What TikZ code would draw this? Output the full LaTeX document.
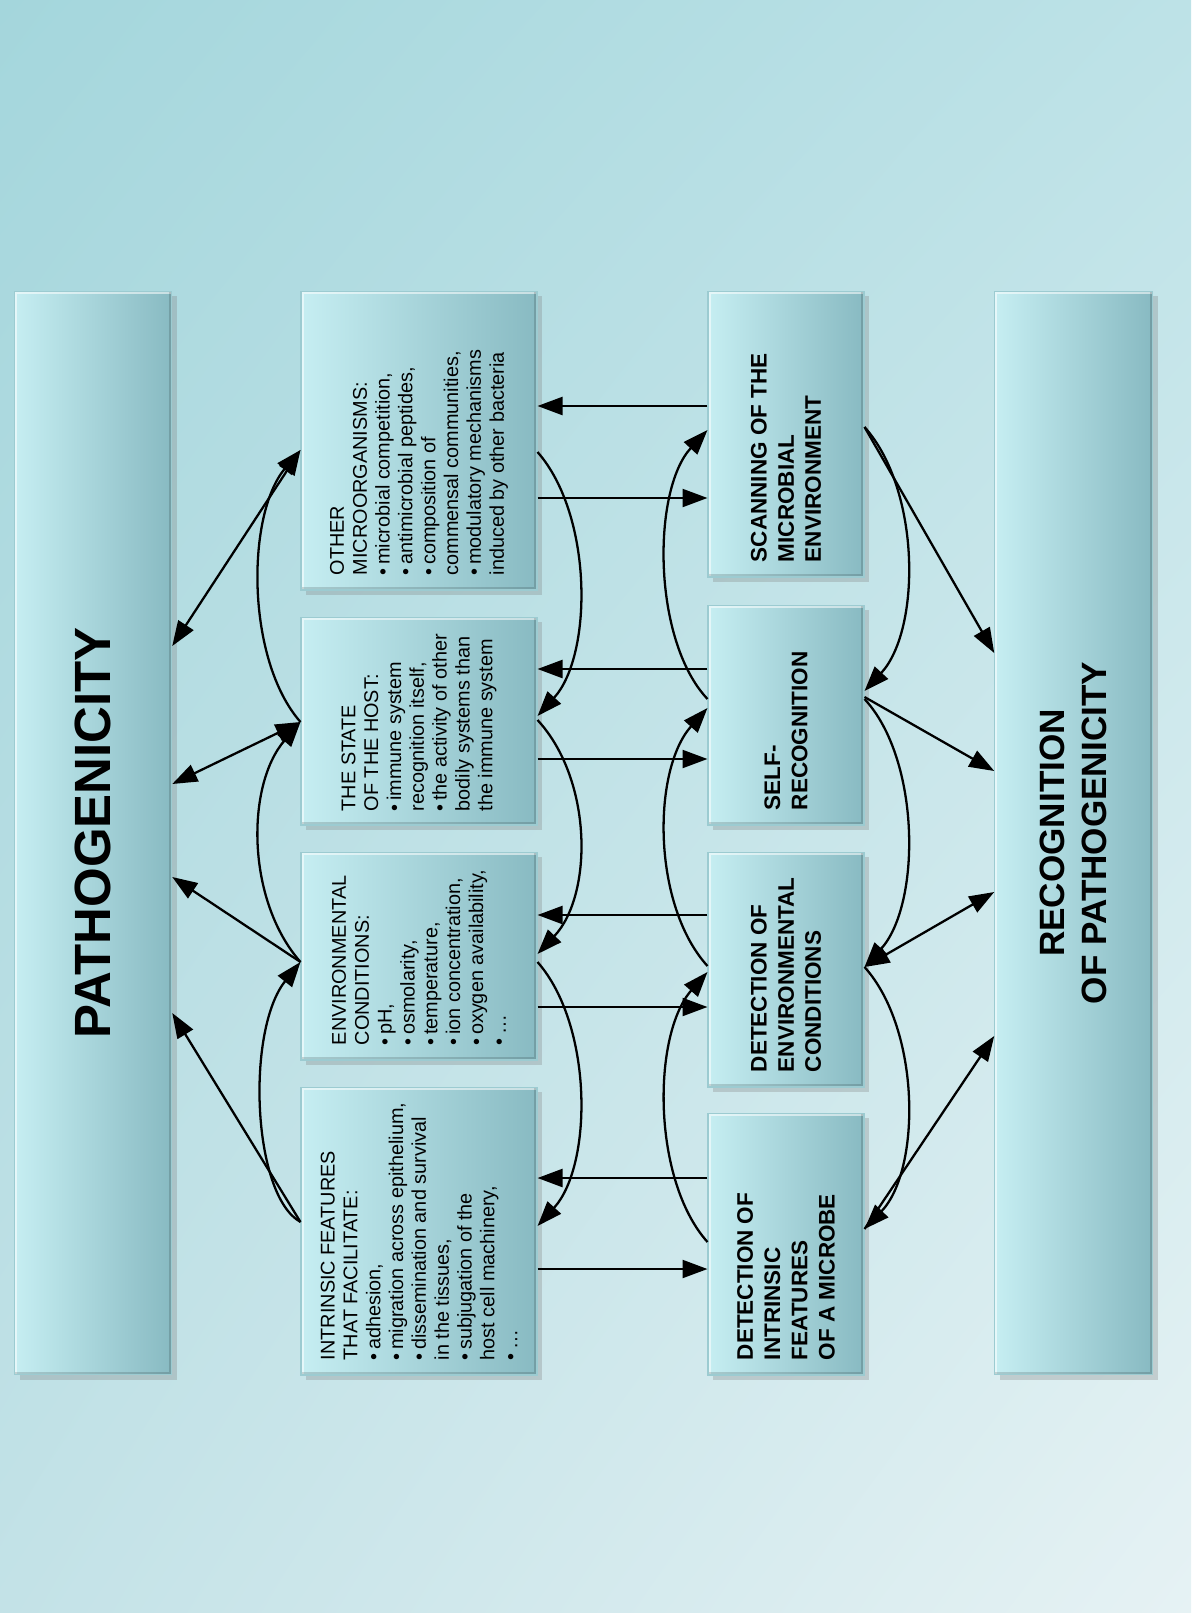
\documentclass[tikz,border=0pt]{standalone}
\usepackage{fontspec}
\setmainfont{Liberation Sans}
\usetikzlibrary{arrows.meta,shadows,shadings}
\definecolor{bgUL}{HTML}{A4D6DC}
\definecolor{bgUR}{HTML}{BDE2E7}
\definecolor{bgLL}{HTML}{C3E2E7}
\definecolor{bgLR}{HTML}{E6F2F4}
\definecolor{boxL}{HTML}{C6EEF2}
\definecolor{boxR}{HTML}{88BAC2}
\definecolor{boxE}{HTML}{9CCBD1}

\begin{document}
\begin{tikzpicture}[x=0.02cm,y=-0.02cm,
  panel/.style={rectangle,left color=boxL,right color=boxR,draw=boxE,line width=0.6pt,inner sep=0pt,
    drop shadow={shadow xshift=3pt,shadow yshift=-3pt,opacity=0.3},
    path picture={
      \draw[white,opacity=0.55,line width=3pt] (path picture bounding box.south west) -- (path picture bounding box.north west) -- (path picture bounding box.north east);
      \draw[black,opacity=0.15,line width=3pt] (path picture bounding box.north east) -- (path picture bounding box.south east) -- (path picture bounding box.south west);}},
  barbox/.style={panel,minimum width=3.15cm,minimum height=21.68cm},
  midbox/.style={panel,minimum width=4.72cm},
  detbox/.style={panel,minimum width=3.12cm},
  txt/.style={rotate=90,anchor=west,align=left,inner sep=0pt,font=\fontsize{11.3}{13}\selectfont},
  hdr/.style={rotate=90,anchor=west,align=left,inner sep=0pt,font=\bfseries\fontsize{12.8}{15.5}\selectfont},
  arr/.style={-{Triangle[length=5mm,width=3.6mm]},line width=1.3pt},
  darr/.style={{Triangle[length=5mm,width=3.6mm]}-{Triangle[length=5mm,width=3.6mm]},line width=1.3pt}
]
  \shade[upper left=bgUL,upper right=bgUR,lower left=bgLL,lower right=bgLR] (0,0) rectangle (1191,1613);
  \useasboundingbox (0,0) rectangle (1191,1613);

  \node[barbox] (path) at (93,833) {};
  \node[barbox] (recog) at (1073.5,833) {};
  \node[rotate=90,font=\bfseries\fontsize{29}{33}\selectfont] (pathTxt) at (path) {PATHOGENICITY};
  \node[rotate=90,align=center,font=\bfseries\fontsize{20}{23.5}\selectfont] (recogTxt) at (recog) {RECOGNITION\\OF PATHOGENICITY};

  \node[midbox,minimum height=5.98cm] (other) at (419,440.5) {};
  \node[midbox,minimum height=4.16cm] (host) at (419,721) {};
  \node[midbox,minimum height=4.16cm] (env) at (419,956) {};
  \node[midbox,minimum height=5.76cm] (intr) at (419,1231) {};

  \node[detbox,minimum height=5.72cm] (scan) at (786,434) {};
  \node[detbox,minimum height=4.4cm] (self) at (786,715) {};
  \node[detbox,minimum height=4.7cm] (detenv) at (786,969.5) {};
  \node[detbox,minimum height=5.24cm] (detintr) at (786,1244) {};

  \node[txt] (otherTxt) at ([yshift=0.3cm]other.south) {OTHER\\MICROORGANISMS:\\•\,microbial competition,\\•\,antimicrobial peptides,\\•\,composition of\\commensal communities,\\•\,modulatory mechanisms\\induced by other bacteria};
  \node[txt] (hostTxt) at ([yshift=0.28cm]host.south) {THE STATE\\OF THE HOST:\\•\,immune system\\recognition itself,\\•\,the activity of other\\bodily systems than\\the immune system};
  \node[txt] (envTxt) at ([yshift=0.3cm]env.south) {ENVIRONMENTAL\\CONDITIONS:\\•\,pH,\\•\,osmolarity,\\•\,temperature,\\•\,ion concentration,\\•\,oxygen availability,\\•\,…};
  \node[txt] (intrTxt) at ([yshift=0.3cm]intr.south) {INTRINSIC FEATURES\\THAT FACILITATE:\\•\,adhesion,\\•\,migration across epithelium,\\•\,dissemination and survival\\in the tissues,\\•\,subjugation of the\\host cell machinery,\\•\,…};

  \node[hdr] (scanTxt) at ([yshift=0.3cm]scan.south) {SCANNING OF THE\\MICROBIAL\\ENVIRONMENT};
  \node[hdr] (selfTxt) at ([yshift=0.3cm]self.south) {SELF-\\RECOGNITION};
  \node[hdr] (detenvTxt) at ([yshift=0.3cm]detenv.south) {DETECTION OF\\ENVIRONMENTAL\\CONDITIONS};
  \node[hdr] (detintrTxt) at ([yshift=0.3cm]detintr.south) {DETECTION OF\\INTRINSIC\\FEATURES\\OF A MICROBE};

  \draw[darr] (path.east |- 0,646) -- (other.west |- 0,450);
  \draw[darr] (path.east |- 0,784) -- (host.west |- 0,722);
  \draw[arr] (env.west |- 0,962) -- (path.east |- 0,877);
  \draw[arr] (intr.west |- 0,1222) -- (path.east |- 0,1013);
  \draw[arr] (host.west |- 0,722) .. controls (246,660) and (246,515) .. (other.west |- 0,450);
  \draw[arr] (env.west |- 0,962) .. controls (246,900) and (246,785) .. (host.west |- 0,722);
  \draw[arr] (intr.west |- 0,1222) .. controls (252,1195) and (246,1030) .. (env.west |- 0,962);

  \draw[arr] (scan.west |- 0,406) -- (other.east |- 0,406);
  \draw[arr] (other.east |- 0,498) -- (scan.west |- 0,498);
  \draw[arr] (self.west |- 0,669) -- (host.east |- 0,669);
  \draw[arr] (host.east |- 0,759) -- (self.west |- 0,759);
  \draw[arr] (detenv.west |- 0,915) -- (env.east |- 0,915);
  \draw[arr] (env.east |- 0,1007) -- (detenv.west |- 0,1007);
  \draw[arr] (detintr.west |- 0,1178) -- (intr.east |- 0,1178);
  \draw[arr] (intr.east |- 0,1269) -- (detintr.west |- 0,1269);

  \draw[arr] (other.east |- 0,452) .. controls (593,515) and (593,655) .. (host.east |- 0,716);
  \draw[arr] (host.east |- 0,720) .. controls (593,780) and (593,895) .. (env.east |- 0,954);
  \draw[arr] (env.east |- 0,962) .. controls (593,1025) and (593,1165) .. (intr.east |- 0,1226);
  \draw[arr] (self.west |- 0,699) .. controls (652,640) and (652,490) .. (scan.west |- 0,430);
  \draw[arr] (detenv.west |- 0,966) .. controls (652,905) and (652,770) .. (self.west |- 0,708);
  \draw[arr] (detintr.west |- 0,1242) .. controls (652,1180) and (652,1035) .. (detenv.west |- 0,972);

  \draw[arr] (scan.east |- 0,427) -- (recog.west |- 0,653);
  \draw[arr] (self.east |- 0,697) -- (recog.west |- 0,771);
  \draw[darr] (detenv.east |- 0,967) -- (recog.west |- 0,892);
  \draw[arr] (detintr.east |- 0,1229) -- (recog.west |- 0,1036);
  \draw[arr] (scan.east |- 0,427) .. controls (921,490) and (921,630) .. (self.east |- 0,691);
  \draw[arr] (self.east |- 0,699) .. controls (921,760) and (921,905) .. (detenv.east |- 0,967);
  \draw[arr] (detenv.east |- 0,967) .. controls (921,1030) and (921,1170) .. (detintr.east |- 0,1229);
\end{tikzpicture}
\end{document}
